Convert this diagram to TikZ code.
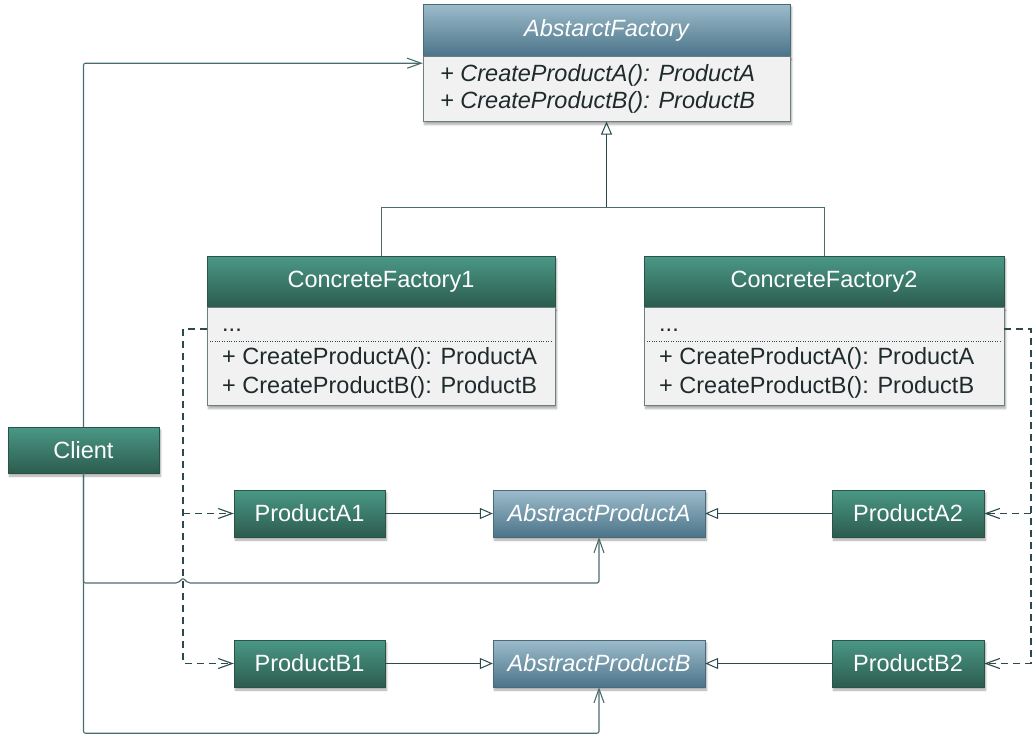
\documentclass[tikz,border=0pt]{standalone}
\usepackage{fontspec}
\setmainfont{Liberation Sans}
\usetikzlibrary{arrows.meta,shadows.blur,calc,positioning}

\definecolor{lineC}{HTML}{2A4A4C}
\definecolor{assocC}{HTML}{4A6C6E}
\definecolor{greenT}{HTML}{4A9886}
\definecolor{greenD}{HTML}{2C5C4E}
\definecolor{greenB}{HTML}{2A5245}
\definecolor{blueT}{HTML}{9CBCCB}
\definecolor{blueD}{HTML}{4C7489}
\definecolor{blueB}{HTML}{4A6A7A}
\definecolor{bodyC}{HTML}{F1F1F1}
\definecolor{bodyB}{HTML}{6E7E80}
\definecolor{textC}{HTML}{1E2A2C}

\tikzset{
  shad/.style={blur shadow={shadow xshift=1.5pt,shadow yshift=-3pt,shadow opacity=35,shadow blur steps=6}},
  big/.style={font=\fontsize{23.5}{28}\selectfont},
  concrete/.style={big,draw=greenB,top color=greenT,bottom color=greenD,text=white,inner sep=0pt,minimum height=47pt,shad},
  abstr/.style={big,draw=blueB,top color=blueT,bottom color=blueD,text=white,inner sep=0pt,minimum height=47pt,font=\fontsize{23.5}{28}\selectfont\itshape,shad},
  body/.style={draw=bodyB,fill=bodyC,inner sep=0pt,anchor=north,shad},
  member/.style={big,text=textC,inner sep=0pt,anchor=base west},
  line/.style={draw=lineC,line width=1pt},
  inh/.style={line,-{Triangle[open,length=13pt,width=11pt]}},
  assoc/.style={draw=assocC,line width=1.1pt,rounded corners=2pt,-{Straight Barb[length=14pt,width=10pt]}},
  dep/.style={line,line width=1.1pt,dash pattern=on 7pt off 5pt,-{Straight Barb[length=14pt,width=10pt]}},
}

\begin{document}
\begin{tikzpicture}[x=1pt,y=-1pt]
\useasboundingbox (0,0) rectangle (1034,736);

% abstract factory
\node[abstr,minimum width=367pt,minimum height=52pt] (af) at (606.5,30) {AbstarctFactory};
\node[body,minimum width=367pt,minimum height=65pt] (afb) at (af.south) {};
\node[member,font=\fontsize{23.5}{28}\selectfont\itshape] (afa) at (440,81.5) {+ CreateProductA(): ProductA};
\node[member,font=\fontsize{23.5}{28}\selectfont\itshape] (afbb) at (440,108.5) {+ CreateProductB(): ProductB};

% concrete factories
\node[concrete,minimum width=348pt,minimum height=51pt] (cf1) at (381,281.5) {ConcreteFactory1};
\node[body,minimum width=348pt,minimum height=98pt] (cf1b) at (cf1.south) {};
\node[member] (cf1d) at (222,331) {...};
\node[member] (cf1a) at (222,364) {+ CreateProductA(): ProductA};
\node[member] (cf1p) at (222,393) {+ CreateProductB(): ProductB};
\draw[lineC,dotted] ($(cf1b.north west)+(3,34)$) -- ($(cf1b.north east)+(-3,34)$);

\node[concrete,minimum width=360pt,minimum height=51pt] (cf2) at (824,281.5) {ConcreteFactory2};
\node[body,minimum width=360pt,minimum height=98pt] (cf2b) at (cf2.south) {};
\node[member] (cf2d) at (659,331) {...};
\node[member] (cf2a) at (659,364) {+ CreateProductA(): ProductA};
\node[member] (cf2p) at (659,393) {+ CreateProductB(): ProductB};
\draw[lineC,dotted] ($(cf2b.north west)+(3,34)$) -- ($(cf2b.north east)+(-3,34)$);

% client and products
\node[concrete,minimum width=151pt,minimum height=46pt] (client) at (83.5,450) {Client};

\node[concrete,minimum width=151pt] (pa1) at (309.5,513.5) {ProductA1};
\node[abstr,minimum width=212pt] (apa) at (599,513.5) {AbstractProductA};
\node[concrete,minimum width=152pt] (pa2) at (908,513.5) {ProductA2};

\node[concrete,minimum width=151pt] (pb1) at (309.5,663.5) {ProductB1};
\node[abstr,minimum width=212pt] (apb) at (599,663.5) {AbstractProductB};
\node[concrete,minimum width=152pt] (pb2) at (908,663.5) {ProductB2};

% generalisation
\coordinate (j) at (606.5,207);
\draw[line,assocC] (cf1.north) |- (j);
\draw[line,assocC] (cf2.north) |- (j);
\draw[inh] (j) -- (afb.south);
\draw[inh] (pa1) -- (apa);
\draw[inh] (pa2) -- (apa);
\draw[inh] (pb1) -- (apb);
\draw[inh] (pb2) -- (apb);

% dependencies
\coordinate (d1) at (183,329);
\coordinate (d2) at (1031,329);
\draw[dep] (cf1b.west |- d1) -- (d1) |- (pb1.west);
\draw[dep] (d1 |- pa1.west) -- (pa1.west);
\draw[dep] (cf2b.east |- d2) -- (d2) |- (pb2.east);
\draw[dep] (d2 |- pa2.east) -- (pa2.east);

% client associations
\coordinate (hop) at (178,583);
\draw[assoc] (client.north) |- ($(af.south west)+(0,7)$);
\draw[assoc] (client.south) |- (hop) -- ++(5,-5) -- ++(5,5) -| (apa.south);
\draw[assoc] (client.south) |- ($(apb.south)+(0,46)$) -- (apb.south);
\end{tikzpicture}
\end{document}
